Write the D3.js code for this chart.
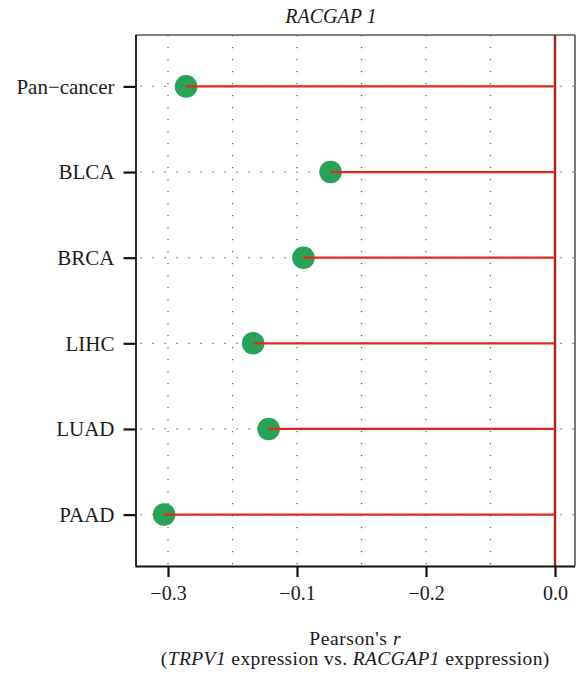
<!DOCTYPE html>
<html>
<head>
<meta charset="utf-8">
<script src="https://cdn.jsdelivr.net/npm/d3@7"></script>
<style>
  html, body { margin: 0; padding: 0; background: #fff; }
  svg text { font-family: "Liberation Serif", "Times New Roman", Times, "DejaVu Serif", serif !important; fill: #1a1a1a; }
</style>
</head>
<body>
<svg id="chart" width="576" height="680"></svg>
<script>
// ---- data ----
const categories = ["Pan\u2212cancer", "BLCA", "BRCA", "LIHC", "LUAD", "PAAD"];
const pearsonR = [-0.286, -0.174, -0.195, -0.234, -0.222, -0.303];
const tickValues = [-0.3, -0.2, -0.1, 0.0];
const tickLabels = ["\u22120.3", "\u22120.1", "\u22120.2", "0.0"];
const gridValues = [-0.3, -0.25, -0.2, -0.15, -0.1, -0.05, 0.0];
const titleText = "RACGAP 1";

// ---- layout ----
const FONT = "'Liberation Serif', 'Times New Roman', Times, 'DejaVu Serif', serif";
const svg = d3.select("#chart").attr("font-family", FONT);
const pLeft = 135.5, pRight = 575, pTop = 35, pBottom = 566;

const x = d3.scaleLinear().domain([-0.3252, 0.0155]).range([pLeft, pRight]);
const y = d3.scalePoint().domain(categories).range([pTop, pBottom]).padding(0.6);

// grid (dotted)
const grid = svg.append("g");
grid.selectAll("line.v").data(gridValues).join("line")
  .attr("class", "v")
  .attr("x1", d => x(d)).attr("x2", d => x(d))
  .attr("y1", pTop).attr("y2", pBottom)
  .attr("stroke", "#555").attr("stroke-width", 1.2)
  .attr("stroke-dasharray", "1.2,10.8");
grid.selectAll("line.h").data(categories).join("line")
  .attr("class", "h")
  .attr("x1", pLeft + 5).attr("x2", pRight)
  .attr("y1", d => y(d)).attr("y2", d => y(d))
  .attr("stroke", "#555").attr("stroke-width", 1.2)
  .attr("stroke-dasharray", "1.2,10.8");

// zero line
svg.append("line")
  .attr("x1", x(0)).attr("x2", x(0))
  .attr("y1", pTop).attr("y2", pBottom)
  .attr("stroke", "#a3221c").attr("stroke-width", 2.4);

// dots
svg.append("g").selectAll("circle").data(categories).join("circle")
  .attr("cx", (d, i) => x(pearsonR[i]))
  .attr("cy", d => y(d))
  .attr("r", 11.3)
  .attr("fill", "#28a257");

// segments (drawn over dots)
svg.append("g").selectAll("line").data(categories).join("line")
  .attr("x1", (d, i) => x(pearsonR[i]))
  .attr("x2", x(0))
  .attr("y1", d => y(d)).attr("y2", d => y(d))
  .attr("stroke", "#e0281c").attr("stroke-width", 2.2);

// panel border: top & right grey
svg.append("line").attr("x1", pLeft).attr("x2", pRight).attr("y1", pTop).attr("y2", pTop)
  .attr("stroke", "#555").attr("stroke-width", 1.6);
svg.append("line").attr("x1", pRight).attr("x2", pRight).attr("y1", pTop).attr("y2", pBottom)
  .attr("stroke", "#555").attr("stroke-width", 1.6);

// axes
const xAxis = d3.axisBottom(x)
  .tickValues(tickValues)
  .tickFormat((d, i) => tickLabels[i])
  .tickSize(11).tickPadding(9);
const gx = svg.append("g").attr("transform", `translate(0,${pBottom})`).call(xAxis)
  .attr("font-family", FONT);
gx.select(".domain").attr("d", `M${pLeft},0.5H${pRight}`).attr("stroke", "#111").attr("stroke-width", 1.8);
gx.selectAll(".tick line").attr("stroke", "#111").attr("stroke-width", 2.2);
gx.selectAll(".tick text").attr("font-size", 20).attr("fill", "#1a1a1a");

const yAxis = d3.axisLeft(y).tickSize(12).tickPadding(9);
const gy = svg.append("g").attr("transform", `translate(${pLeft},0)`).call(yAxis)
  .attr("font-family", FONT);
gy.select(".domain").attr("d", `M0.5,${pTop}V${pBottom}`).attr("stroke", "#111").attr("stroke-width", 1.8);
gy.selectAll(".tick line").attr("stroke", "#111").attr("stroke-width", 2.2);
gy.selectAll(".tick text").attr("font-size", 21).attr("fill", "#1a1a1a");

// title
svg.append("text")
  .attr("x", 331).attr("y", 23)
  .attr("text-anchor", "middle")
  .attr("font-size", 20).attr("font-style", "italic")
  .text(titleText);

// x-axis title
const cx = (pLeft + pRight) / 2;
const t1 = svg.append("text").attr("x", cx).attr("y", 645)
  .attr("text-anchor", "middle").attr("font-size", 19.5).attr("letter-spacing", 0.6);
t1.append("tspan").text("Pearson's ");
t1.append("tspan").attr("font-style", "italic").text("r");

const t2 = svg.append("text").attr("x", cx).attr("y", 665)
  .attr("text-anchor", "middle").attr("font-size", 19.5).attr("letter-spacing", 0.4);
t2.append("tspan").text("(");
t2.append("tspan").attr("font-style", "italic").text("TRPV1");
t2.append("tspan").text(" expression vs. ");
t2.append("tspan").attr("font-style", "italic").text("RACGAP1");
t2.append("tspan").text(" exppression)");
</script>
</body>
</html>
